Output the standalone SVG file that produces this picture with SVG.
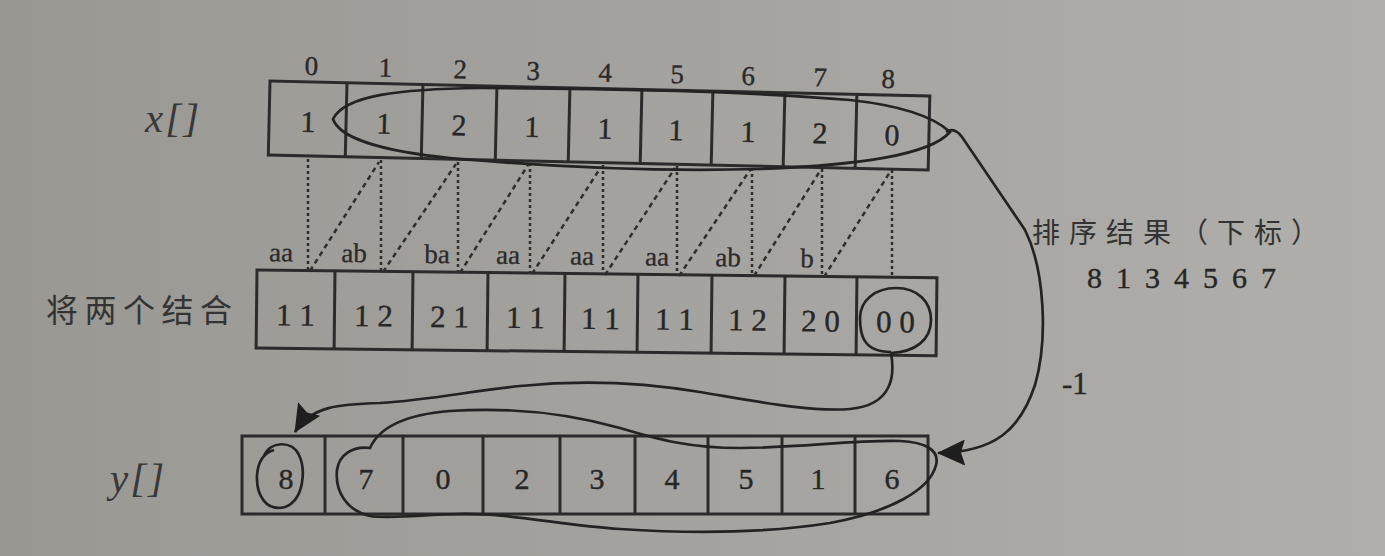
<svg xmlns="http://www.w3.org/2000/svg" width="1385" height="556" viewBox="0 0 1385 556">
<defs>
<linearGradient id="paper" x1="0" y1="0" x2="1" y2="0">
<stop offset="0" stop-color="#9a9893"/>
<stop offset="0.5" stop-color="#a5a39f"/>
<stop offset="1" stop-color="#b1afab"/>
</linearGradient>
<marker id="arr" viewBox="0 0 28 26" refX="27" refY="13" markerWidth="28" markerHeight="26" markerUnits="userSpaceOnUse" orient="auto">
<path d="M0,0 L28,13 L0,26 L4,13 Z" fill="#1e1e1e"/>
</marker>
<style>
.box{fill:none;stroke:#2b2b2b;stroke-width:3}
.div{stroke:#2b2b2b;stroke-width:3}
.num{font-family:"Liberation Serif",serif;font-size:30px;fill:#262626;stroke:#262626;stroke-width:0.4;text-anchor:middle}
.idx{font-family:"Liberation Serif",serif;font-size:27px;fill:#2a2a2a;stroke:#2a2a2a;stroke-width:0.4;text-anchor:middle}
.pair{font-family:"Liberation Serif",serif;font-size:31px;fill:#262626;stroke:#262626;stroke-width:0.4;text-anchor:middle}
.lab{font-family:"Liberation Serif",serif;font-size:27px;fill:#2a2a2a;stroke:#2a2a2a;stroke-width:0.3;text-anchor:middle}
.name{font-family:"Liberation Serif",serif;font-style:italic;font-size:41px;fill:#383838}
.cjk{font-family:"Noto Sans CJK SC",sans-serif;fill:#333}
.dot{stroke:#2e2e2e;stroke-width:2.5;stroke-dasharray:3 3;fill:none}
.dash{stroke:#2e2e2e;stroke-width:2.5;stroke-dasharray:5 4;fill:none}
.curve{fill:none;stroke:#232323;stroke-width:2.7}
</style>
</defs>
<rect x="0" y="0" width="1385" height="556" fill="url(#paper)"/>

<g id="label-x">
<text class="name" x="145" y="132" letter-spacing="2">x[]</text>
</g>

<g id="array-x" transform="rotate(1.3 270 81)">
<rect class="box" x="270" y="81" width="660" height="74"/>
<line class="div" x1="347" y1="81" x2="347" y2="155"/>
<line class="div" x1="423" y1="81" x2="423" y2="155"/>
<line class="div" x1="497" y1="81" x2="497" y2="155"/>
<line class="div" x1="570" y1="81" x2="570" y2="155"/>
<line class="div" x1="642" y1="81" x2="642" y2="155"/>
<line class="div" x1="713" y1="81" x2="713" y2="155"/>
<line class="div" x1="785" y1="81" x2="785" y2="155"/>
<line class="div" x1="857" y1="81" x2="857" y2="155"/>
<text class="idx" x="311" y="74">0</text>
<text class="idx" x="385" y="74">1</text>
<text class="idx" x="460" y="74">2</text>
<text class="idx" x="533" y="74">3</text>
<text class="idx" x="605" y="74">4</text>
<text class="idx" x="677" y="74">5</text>
<text class="idx" x="748" y="74">6</text>
<text class="idx" x="820" y="74">7</text>
<text class="idx" x="888" y="74">8</text>
<text class="num" x="309" y="131">1</text>
<text class="num" x="385" y="131">1</text>
<text class="num" x="460" y="131">2</text>
<text class="num" x="533" y="131">1</text>
<text class="num" x="606" y="131">1</text>
<text class="num" x="677" y="131">1</text>
<text class="num" x="749" y="131">1</text>
<text class="num" x="821" y="131">2</text>
<text class="num" x="893" y="131">0</text>
</g>

<g id="label-combine">
<text class="cjk" x="46" y="322" font-size="32" letter-spacing="6.5">将两个结合</text>
</g>

<g id="array-combined" transform="rotate(0.65 257 270)">
<rect class="box" x="257" y="270" width="680" height="78"/>
<line class="div" x1="335" y1="270" x2="335" y2="348"/>
<line class="div" x1="413" y1="270" x2="413" y2="348"/>
<line class="div" x1="488" y1="270" x2="488" y2="348"/>
<line class="div" x1="565" y1="270" x2="565" y2="348"/>
<line class="div" x1="638" y1="270" x2="638" y2="348"/>
<line class="div" x1="712" y1="270" x2="712" y2="348"/>
<line class="div" x1="785" y1="270" x2="785" y2="348"/>
<line class="div" x1="857" y1="270" x2="857" y2="348"/>
<text class="pair" x="296" y="325">1 1</text>
<text class="pair" x="374" y="325">1 2</text>
<text class="pair" x="450" y="325">2 1</text>
<text class="pair" x="526" y="325">1 1</text>
<text class="pair" x="601" y="325">1 1</text>
<text class="pair" x="675" y="325">1 1</text>
<text class="pair" x="748" y="325">1 2</text>
<text class="pair" x="821" y="325">2 0</text>
<text class="pair" x="896" y="325">0 0</text>
</g>

<g id="pair-labels" transform="rotate(0.65 257 270)">
<text class="lab" x="281" y="261">aa</text>
<text class="lab" x="354" y="261">ab</text>
<text class="lab" x="437" y="261">ba</text>
<text class="lab" x="508" y="261">aa</text>
<text class="lab" x="582" y="261">aa</text>
<text class="lab" x="657" y="261">aa</text>
<text class="lab" x="728" y="261">ab</text>
<text class="lab" x="807" y="261">b</text>
</g>

<g id="label-y">
<text class="name" x="110" y="492" letter-spacing="2">y[]</text>
</g>

<g id="array-y">
<rect class="box" x="242" y="436" width="686" height="78"/>
<line class="div" x1="325" y1="436" x2="325" y2="514"/>
<line class="div" x1="403" y1="436" x2="403" y2="514"/>
<line class="div" x1="483" y1="436" x2="483" y2="514"/>
<line class="div" x1="560" y1="436" x2="560" y2="514"/>
<line class="div" x1="635" y1="436" x2="635" y2="514"/>
<line class="div" x1="708" y1="436" x2="708" y2="514"/>
<line class="div" x1="782" y1="436" x2="782" y2="514"/>
<line class="div" x1="855" y1="436" x2="855" y2="514"/>
<text class="num" x="286" y="489">8</text>
<text class="num" x="366" y="489">7</text>
<text class="num" x="443" y="489">0</text>
<text class="num" x="522" y="489">2</text>
<text class="num" x="597" y="489">3</text>
<text class="num" x="672" y="489">4</text>
<text class="num" x="746" y="489">5</text>
<text class="num" x="818" y="489">1</text>
<text class="num" x="892" y="489">6</text>
</g>

<g id="result-note">
<text class="cjk" x="1032" y="243" font-size="28" letter-spacing="9">排序结果（下标）</text>
<text class="num" x="1087" y="288" style="text-anchor:start" letter-spacing="14">8134567</text>
<text class="num" x="1062" y="394" style="text-anchor:start;font-size:31px">-1</text>
</g>

<g id="connectors">
<line class="dot" x1="308" y1="159" x2="308" y2="271"/>
<line class="dot" x1="381" y1="160" x2="381" y2="272"/>
<line class="dot" x1="458" y1="162" x2="458" y2="273"/>
<line class="dot" x1="530" y1="163" x2="530" y2="274"/>
<line class="dot" x1="603" y1="165" x2="603" y2="275"/>
<line class="dot" x1="677" y1="166" x2="677" y2="276"/>
<line class="dot" x1="752" y1="168" x2="752" y2="276"/>
<line class="dot" x1="822" y1="169" x2="822" y2="277"/>
<line class="dot" x1="892" y1="170" x2="892" y2="278"/>
<line class="dash" x1="310" y1="271" x2="379" y2="162"/>
<line class="dash" x1="383" y1="272" x2="456" y2="164"/>
<line class="dash" x1="460" y1="273" x2="528" y2="165"/>
<line class="dash" x1="532" y1="274" x2="601" y2="167"/>
<line class="dash" x1="605" y1="275" x2="675" y2="168"/>
<line class="dash" x1="679" y1="276" x2="750" y2="170"/>
<line class="dash" x1="754" y1="276" x2="820" y2="171"/>
<line class="dash" x1="824" y1="277" x2="890" y2="172"/>

<path class="curve" d="M 333 119 C 345 95, 400 89, 480 88 C 600 88, 760 92, 850 100 C 905 106, 935 118, 950 132 C 930 155, 860 165, 760 169 C 650 172, 540 166, 450 158 C 390 152, 340 140, 333 119 Z"/>
<path class="curve" marker-end="url(#arr)" d="M 946 132 C 952 128, 957 130, 962 137 L 1025 230 C 1045 270, 1048 340, 1035 385 C 1020 430, 995 452, 938 453"/>

<path class="curve" d="M 891 352 C 862 352, 860 333, 860 318 C 860 300, 876 288, 896 288 C 918 288, 931 302, 931 320 C 931 340, 915 352, 891 353"/>
<path class="curve" marker-end="url(#arr)" d="M 891 353 C 895 375, 893 405, 850 409 C 810 412, 760 402, 700 392 C 640 382, 580 380, 520 386 C 470 391, 430 400, 380 403 C 340 404, 311 406, 295 432"/>

<path class="curve" d="M 264 456 C 270 441, 292 440, 299 455 C 306 470, 304 500, 285 507 C 266 512, 256 495, 257 475 C 258 462, 264 453, 274 450"/>

<path class="curve" d="M 370 448 C 378 430, 400 415, 450 411 C 510 407, 570 414, 620 428 C 660 440, 690 448, 740 448 C 800 448, 850 440, 900 441 C 925 442, 940 450, 936 465 C 930 490, 890 512, 830 523 C 760 534, 680 533, 620 529 C 560 525, 510 513, 460 514 C 420 515, 390 519, 370 516 C 345 510, 335 490, 337 470 C 339 455, 352 446, 370 448 Z"/>
</g>
</svg>
